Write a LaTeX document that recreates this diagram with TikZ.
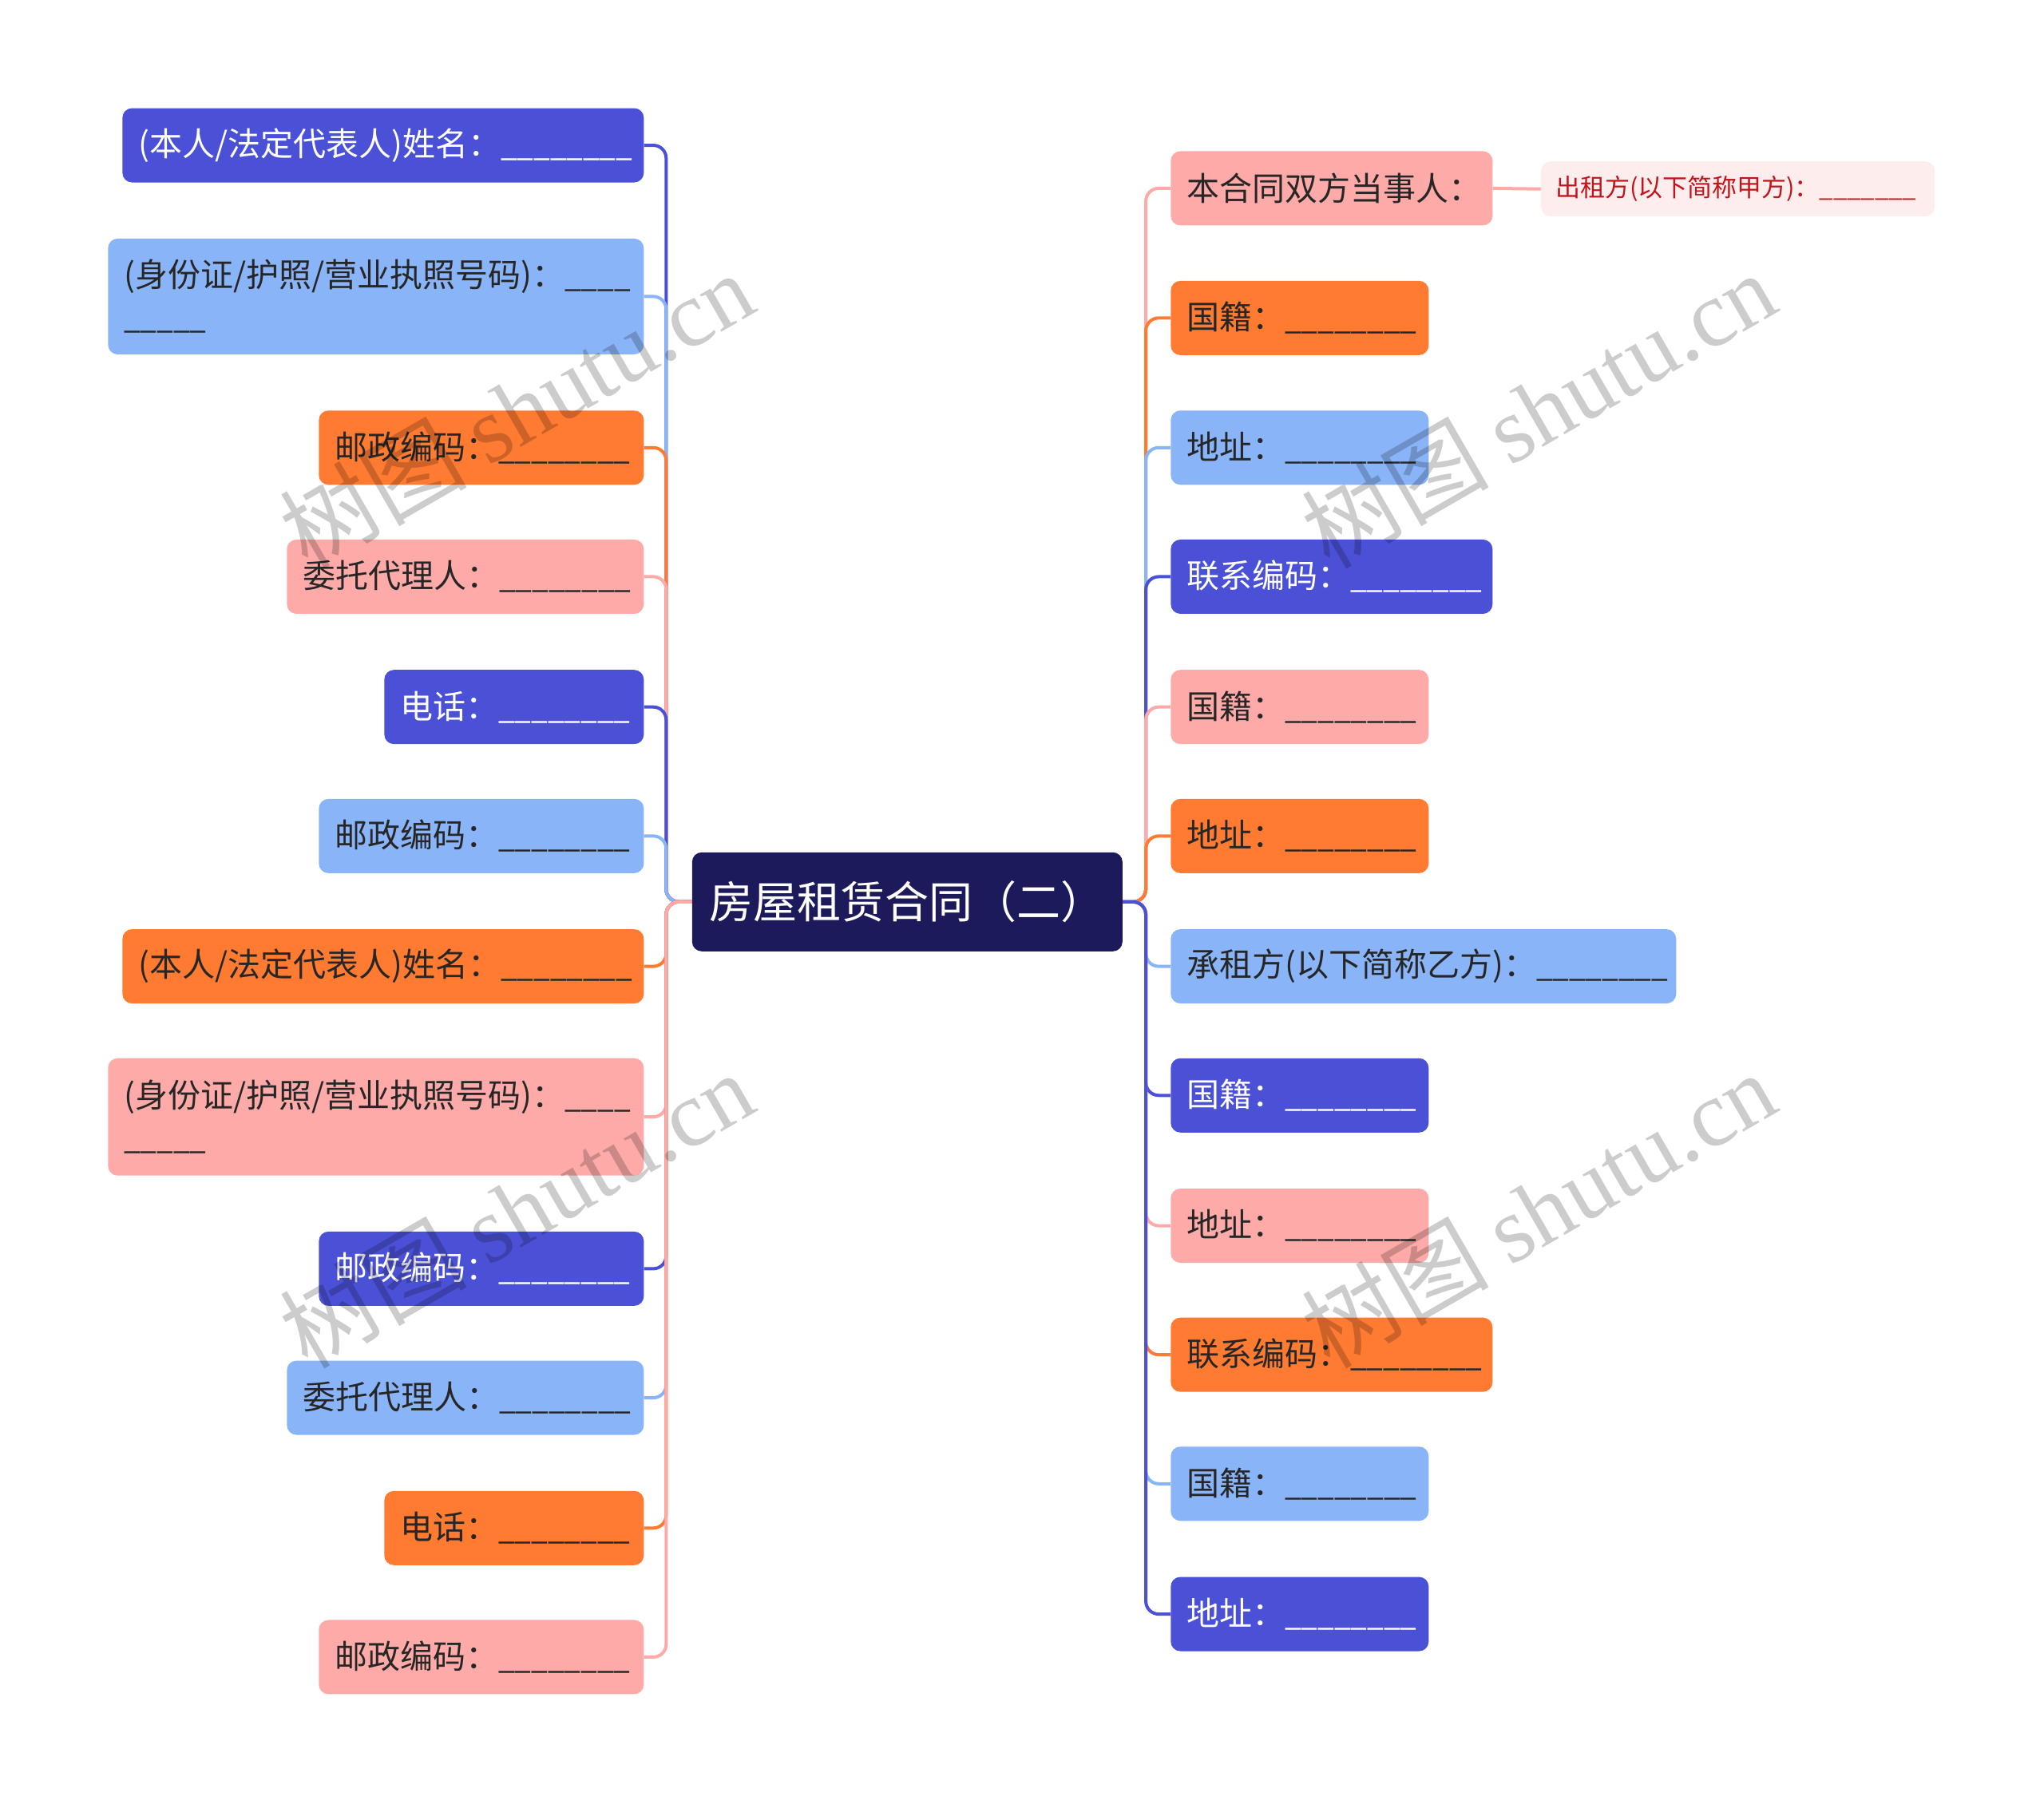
\documentclass[tikz,border=0pt]{standalone}
\usepackage{fontspec}
\usepackage{graphicx}
\setmainfont{Noto Sans CJK SC}
\newfontfamily\wmlatin{Liberation Serif}
\usetikzlibrary{calc}
\definecolor{cdb}{HTML}{4A51D6}
\definecolor{clb}{HTML}{8AB4F8}
\definecolor{cor}{HTML}{FF7B31}
\definecolor{cpk}{HTML}{FDAAA8}
\definecolor{croot}{HTML}{1C1A5B}
\definecolor{clpk}{HTML}{FEEDED}
\definecolor{cred}{HTML}{C0151B}
\definecolor{cdark}{HTML}{262626}
\newcommand\ueight{\scalebox{0.9}[1]{\_\_\_\_\_\_\_\_}}
\newcommand\useven{\_\_\_\_\_\_\_}
\newcommand\ufour{\scalebox{0.9}[1]{\_\_\_\_}}
\newcommand\ufive{\scalebox{0.9}[1]{\_\_\_\_\_}}
\newcommand\one[1]{\mbox{#1}}
\tikzset{
  box/.style={rounded corners=12pt, inner xsep=20pt, inner ysep=0pt, minimum height=93pt,
    align=left, font=\fontsize{41}{52}\selectfont, text=cdark},
  lbox/.style={box, anchor=east},
  rbox/.style={box, anchor=west},
  wt/.style={text=white},
  conn/.style={line width=4pt, rounded corners=16pt},
  wm/.style={rotate=30, text=black, opacity=0.2, inner sep=0pt},
}
\begin{document}
\begin{tikzpicture}[x=1.6327pt, y=-1.6327pt]
\useasboundingbox (0,0) rectangle (1568,1384);
% root
\node[rounded corners=12pt, fill=croot, text=white, minimum width=539pt, minimum height=124pt,
  font=\fontsize{55}{62}\selectfont, inner sep=0pt] (root) at (696,692) {房屋租赁合同（二）};
\coordinate (LS) at (511,692);
\coordinate (RS) at (879,692);
% left nodes
\node[lbox, fill=cdb, wt, text width=613pt] (L1) at (494,111.5) {\one{(本人/法定代表人)姓名：\ueight}};
\node[lbox, fill=clb, text width=631pt, minimum height=145pt] (L2) at (494,227.5) {\one{(身份证/护照/营业执照号码)：\ufour}\\\ufive};
\node[lbox, fill=cor, text width=367pt] (L3) at (494,343.5) {\one{邮政编码：\ueight}};
\node[lbox, fill=cpk, text width=407pt] (L4) at (494,442.5) {\one{委托代理人：\ueight}};
\node[lbox, fill=cdb, wt, text width=285pt] (L5) at (494,542.5) {\one{电话：\ueight}};
\node[lbox, fill=clb, text width=367pt] (L6) at (494,641.5) {\one{邮政编码：\ueight}};
\node[lbox, fill=cor, text width=613pt] (L7) at (494,741.5) {\one{(本人/法定代表人)姓名：\ueight}};
\node[lbox, fill=cpk, text width=631pt, minimum height=147pt] (L8) at (494,857) {\one{(身份证/护照/营业执照号码)：\ufour}\\\ufive};
\node[lbox, fill=cdb, wt, text width=367pt] (L9) at (494,973.5) {\one{邮政编码：\ueight}};
\node[lbox, fill=clb, text width=407pt] (L10) at (494,1072.5) {\one{委托代理人：\ueight}};
\node[lbox, fill=cor, text width=285pt] (L11) at (494,1172.5) {\one{电话：\ueight}};
\node[lbox, fill=cpk, text width=367pt] (L12) at (494,1271.5) {\one{邮政编码：\ueight}};
% right nodes
\node[rbox, fill=cpk, text width=363pt] (R1) at (898,144.5) {\one{本合同双方当事人：}};
\node[box, anchor=west, fill=clpk, text=cred, text width=457pt, inner xsep=18pt, minimum height=69pt,
  font=\fontsize{31}{40}\selectfont] (C1) at (1182,145) {\one{出租方(以下简称甲方)：\useven}};
\node[rbox, fill=cor, text width=283pt] (R2) at (898,244) {\one{国籍：\ueight}};
\node[rbox, fill=clb, text width=283pt] (R3) at (898,343.5) {\one{地址：\ueight}};
\node[rbox, fill=cdb, wt, text width=363pt] (R4) at (898,442.5) {\one{联系编码：\ueight}};
\node[rbox, fill=cpk, text width=283pt] (R5) at (898,542.5) {\one{国籍：\ueight}};
\node[rbox, fill=cor, text width=283pt] (R6) at (898,641.5) {\one{地址：\ueight}};
\node[rbox, fill=clb, text width=593pt] (R7) at (898,741.5) {\one{承租方(以下简称乙方)：\ueight}};
\node[rbox, fill=cdb, wt, text width=283pt] (R8) at (898,840.5) {\one{国籍：\ueight}};
\node[rbox, fill=cpk, text width=283pt] (R9) at (898,940.5) {\one{地址：\ueight}};
\node[rbox, fill=cor, text width=363pt] (R10) at (898,1039.5) {\one{联系编码：\ueight}};
\node[rbox, fill=clb, text width=283pt] (R11) at (898,1138.5) {\one{国籍：\ueight}};
\node[rbox, fill=cdb, wt, text width=283pt] (R12) at (898,1238.5) {\one{地址：\ueight}};
% connectors
\foreach \n/\c in {L1/cdb,L2/clb,L3/cor,L4/cpk,L5/cdb,L6/clb,L7/cor,L8/cpk,L9/cdb,L10/clb,L11/cor,L12/cpk}
  \draw[conn, draw=\c] (root.west) -- (LS) |- (\n.east);
\foreach \n/\c in {R1/cpk,R2/cor,R3/clb,R4/cdb,R5/cpk,R6/cor,R7/clb,R8/cdb,R9/cpk,R10/cor,R11/clb,R12/cdb}
  \draw[conn, draw=\c] (root.east) -- (RS) |- (\n.west);
\draw[line width=4pt, draw=cpk] (R1.east) -- (C1.west);
% watermarks
\foreach \p in {(396,314),(396,928),(1180,314),(1180,928)}
  \node[wm, font=\fontsize{117}{125}\selectfont] at \p {树图 {\wmlatin shutu.cn}};
\end{tikzpicture}
\end{document}
